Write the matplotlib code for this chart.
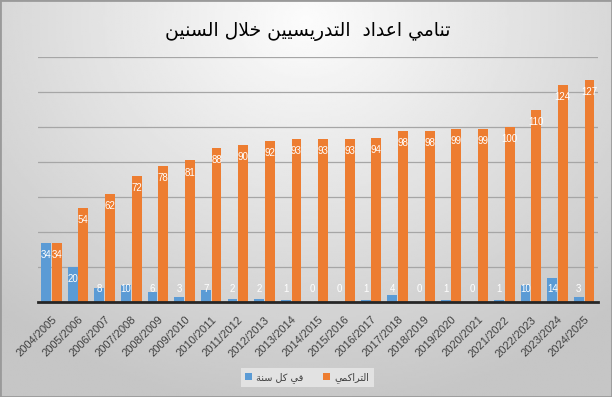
import numpy as np
import matplotlib
matplotlib.use("Agg")
import matplotlib.pyplot as plt
from matplotlib import font_manager
from matplotlib.patches import Rectangle

# data
years = ["2004/2005", "2005/2006", "2006/2007", "2007/2008", "2008/2009", "2009/2010",
         "2010/2011", "2011/2012", "2012/2013", "2013/2014", "2014/2015", "2015/2016",
         "2016/2017", "2017/2018", "2018/2019", "2019/2020", "2020/2021", "2021/2022",
         "2022/2023", "2023/2024", "2024/2025"]
per_year = [34, 20, 8, 10, 6, 3, 7, 2, 2, 1, 0, 0, 1, 4, 0, 1, 0, 1, 10, 14, 3]
cumulative = [34, 54, 62, 72, 78, 81, 88, 90, 92, 93, 93, 93, 94, 98, 98, 99, 99, 100, 110, 124, 127]

title = "تنامي اعداد  التدريسيين خلال السنين"
label_year = "في كل سنة"
label_cum = "التراكمي"

# matplotlib has no arabic shaping, so map letters to presentation forms
# (isolated, final, initial, medial)
FORMS = {
    "\u0627": ("\uFE8D", "\uFE8E", None, None),
    "\u0628": ("\uFE8F", "\uFE90", "\uFE91", "\uFE92"),
    "\u0629": ("\uFE93", "\uFE94", None, None),
    "\u062A": ("\uFE95", "\uFE96", "\uFE97", "\uFE98"),
    "\u062E": ("\uFEA5", "\uFEA6", "\uFEA7", "\uFEA8"),
    "\u062F": ("\uFEA9", "\uFEAA", None, None),
    "\u0631": ("\uFEAD", "\uFEAE", None, None),
    "\u0633": ("\uFEB1", "\uFEB2", "\uFEB3", "\uFEB4"),
    "\u0639": ("\uFEC9", "\uFECA", "\uFECB", "\uFECC"),
    "\u0641": ("\uFED1", "\uFED2", "\uFED3", "\uFED4"),
    "\u0643": ("\uFED9", "\uFEDA", "\uFEDB", "\uFEDC"),
    "\u0644": ("\uFEDD", "\uFEDE", "\uFEDF", "\uFEE0"),
    "\u0645": ("\uFEE1", "\uFEE2", "\uFEE3", "\uFEE4"),
    "\u0646": ("\uFEE5", "\uFEE6", "\uFEE7", "\uFEE8"),
    "\u064A": ("\uFEF1", "\uFEF2", "\uFEF3", "\uFEF4"),
}


def dual(c):
    return c in FORMS and FORMS[c][2] is not None


def shape(text):
    out = []
    i = 0
    n = len(text)
    while i < n:
        c = text[i]
        if c not in FORMS:
            out.append(c)
            i += 1
            continue
        prev = text[i - 1] if i > 0 else ""
        jp = dual(prev)
        if c == "\u0644" and i + 1 < n and text[i + 1] == "\u0627":
            out.append("\uFEFC" if jp else "\uFEFB")
            i += 2
            continue
        nxt = text[i + 1] if i + 1 < n else ""
        jn = dual(c) and nxt in FORMS
        f = FORMS[c]
        if jp and jn:
            out.append(f[3])
        elif jp:
            out.append(f[1])
        elif jn:
            out.append(f[2])
        else:
            out.append(f[0])
        i += 1
    return "".join(reversed(out))


blue = "#5B9BD5"
orange = "#ED7D31"

# narrower font for the value labels if there is one
names = {f.name for f in font_manager.fontManager.ttflist}
if "Liberation Sans Narrow" in names:
    label_font, label_size = "Liberation Sans Narrow", 8
else:
    label_font, label_size = "Liberation Sans", 7

fig = plt.figure(figsize=(6.12, 3.97), dpi=100)

# gradient background
bg = fig.add_axes([0, 0, 1, 1], zorder=-10)
yy, xx = np.mgrid[0:1:200j, 0:1:300j]
r = np.sqrt(((xx - 0.5) / 0.8) ** 2 + ((yy - 0.05) / 1.05) ** 2)
img = np.clip(252 - 58 * r, 198, 252) / 255.0
bg.imshow(img, cmap="gray", vmin=0, vmax=1, extent=[0, 1, 0, 1], origin="upper", aspect="auto")
bg.set_axis_off()
fig.patches.append(Rectangle((0, 0), 1, 1, transform=fig.transFigure, fill=False,
                             edgecolor="#9a9a9a", linewidth=2))

W, H = 612, 397
ax = fig.add_axes([38 / W, (H - 302) / H, (597.5 - 38) / W, (302 - 57) / H])
ax.set_facecolor("none")

x = np.arange(len(years))
w = 0.37
off = 0.2
ax.bar(x - off, per_year, w, color=blue, zorder=3, label=shape(label_year))
ax.bar(x + off, cumulative, w, color=orange, zorder=3, label=shape(label_cum))

for i in range(len(years)):
    for o, v in ((-off, per_year[i]), (off, cumulative[i])):
        ax.text(x[i] + o, max(v, 14.5) - 7, str(v), ha="center", va="center",
                color="white", fontsize=label_size, family=label_font, zorder=5)

ax.set_xlim(-0.5, len(years) - 0.5)
ax.set_ylim(0, 140)
ax.set_yticks(np.arange(20, 141, 20))
ax.yaxis.grid(True, color="#a6a6a6", linewidth=0.9, zorder=0)
ax.tick_params(axis="y", left=False, labelleft=False)
ax.tick_params(axis="x", length=0, pad=9)
ax.set_xticks(x)
ax.set_xticklabels(years, rotation=45, ha="right", rotation_mode="anchor",
                   fontsize=8, family="Liberation Sans", color="#404040")
for s in ["left", "right", "top"]:
    ax.spines[s].set_visible(False)
ax.spines["bottom"].set_color("#262626")
ax.spines["bottom"].set_linewidth(2)
ax.spines["bottom"].set_zorder(6)

fig.text(0.503, 0.92, shape(title), ha="center", va="center", fontsize=13.5,
         family="DejaVu Sans", color="#000000")

leg = fig.legend(loc="center", bbox_to_anchor=(0.502, 0.05), ncol=2, frameon=True,
                 fancybox=False, facecolor="#e2e2e2", edgecolor="none", framealpha=1,
                 handlelength=0.7, handleheight=0.7, handletextpad=0.5,
                 columnspacing=2.0, prop={"family": "DejaVu Sans", "size": 7})
for t in leg.get_texts():
    t.set_color("#404040")

fig.savefig("out.png", dpi=100)
